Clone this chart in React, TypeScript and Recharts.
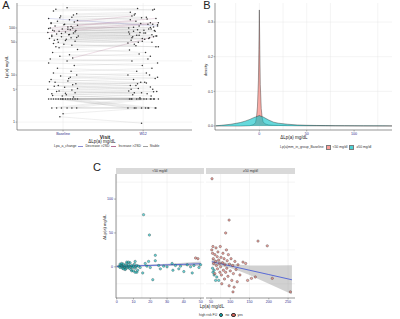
import React from "react";
import {
  Area,
  CartesianGrid,
  ComposedChart,
  Line,
  Scatter,
  XAxis,
  YAxis,
} from "recharts";

const FONT = "'Liberation Sans', Arial, Helvetica, sans-serif";
const NAVY = "#2e2e8a";
const AXIS = "#4d4d4d";
const GRID = "#e4e4e4";
const RED = "#F8766D";
const TEAL = "#00BFC4";

// ---------- A: Lp(a) at each visit, log scale ----------
const visitTicks = [1, 2];
const visitNames = ["Baseline", "W12"];
const lpaTicks = [1, 5, 10, 50, 100];
const lpaGrid = [1, 2, 3, 4, 5, 6, 7, 8, 9, 10, 20, 30, 40, 50, 60, 70, 80, 90, 100, 200, 300];

const baselineLpa = [
  270, 230, 200, 180, 170, 160, 150, 140, 135, 130, 120, 115, 110, 105, 100, 100, 95, 92, 90, 88,
  85, 82, 80, 78, 75, 72, 70, 68, 65, 62, 60, 58, 55, 52, 50,
  250, 190, 165, 145, 125, 118, 108, 98, 94, 86, 83, 76, 73, 66, 63, 57, 54, 47, 43, 38,
  45, 40, 35, 30, 27, 25, 23, 22, 20, 18, 16, 14, 12, 11, 10,
  9.5, 9, 8, 7.5, 7, 6.5, 6, 5.5, 5, 4.8, 4.5, 4.2, 4, 3.8, 3.6, 3.4,
  8.5, 7.2, 6.2, 5.8, 5.2, 4.6, 4.1, 3.7,
  3.1, 3.1, 3.1, 3.1, 3.1, 3.1, 3.1, 3.1, 3.1, 3.1, 3.1, 3.1, 3.1, 3.1,
  2, 2, 2, 2, 2, 2,
  1.5, 1.3,
];
const week12Lpa = [
  260, 250, 215, 170, 190, 110, 165, 130, 180, 120, 110, 160, 100, 95, 140, 90, 105, 85, 130, 80,
  95, 75, 120, 70, 85, 65, 78, 60, 72, 55, 68, 50, 62, 48, 58,
  240, 200, 155, 150, 118, 125, 102, 104, 88, 92, 78, 82, 68, 70, 60, 62, 50, 52, 40, 42,
  40, 45, 30, 34, 25, 28, 65, 20, 22, 16, 18, 12, 14, 10, 11,
  8, 10, 7, 8.5, 6, 7, 5, 6, 4.5, 5.2, 4, 4.6, 3.6, 4.2, 3.1, 3.8,
  9, 6.5, 6.8, 5, 5.6, 4.2, 4.4, 3.3,
  3.1, 3.1, 2, 3.1, 3.1, 2, 3.1, 3.1, 2, 3.1, 3.1, 2, 3.1, 2,
  3.1, 2, 3.1, 2, 3.1, 2,
  2, 0.95,
];
const baselineJitter = [
  0.05, -0.12, 0.17, -0.03, 0.11, -0.18, 0.08, -0.07, 0.14, -0.15, 0.02, 0.18, -0.1, 0.06, -0.16,
  0.12, -0.01, 0.09, -0.13, 0.16, -0.05, 0.03, -0.19, 0.13, -0.08, 0.07, -0.14, 0.19, -0.02, 0.1,
  -0.17, 0.04, -0.11, 0.15, -0.06,
  -0.09, 0.13, -0.04, 0.18, -0.15, 0.01, 0.1, -0.18, 0.06, -0.11, 0.15, -0.02, 0.08, -0.14, 0.17,
  -0.07, 0.03, -0.12, 0.11, -0.05,
  0.01, -0.09, 0.18, -0.13, 0.08, -0.04, 0.12, -0.16, 0.05, -0.18, 0.14, -0.07, 0.1, -0.12, 0.17,
  -0.03, 0.09, -0.15, 0.06, -0.1, 0.16, -0.06, 0.02, -0.19, 0.11, -0.08, 0.15, -0.14, 0.04, -0.01, 0.13,
  0.07, -0.17, 0.12, -0.11, 0.18, -0.05, 0.03, -0.13,
  -0.18, -0.15, -0.12, -0.09, -0.06, -0.03, 0.0, 0.03, 0.06, 0.09, 0.12, 0.15, 0.18, -0.01,
  -0.14, -0.08, -0.02, 0.05, 0.11, 0.17,
  0.0, -0.04,
];
const week12Jitter = [
  -0.07, 0.14, -0.16, 0.04, -0.11, 0.18, -0.02, 0.09, -0.14, 0.12, -0.05, 0.16, -0.18, 0.07, -0.09,
  0.01, 0.13, -0.12, 0.19, -0.04, 0.1, -0.17, 0.06, -0.08, 0.15, -0.13, 0.03, -0.01, 0.11, -0.15,
  0.17, -0.06, 0.08, -0.19, 0.02,
  0.12, -0.1, 0.05, -0.16, 0.18, -0.03, 0.09, -0.12, 0.14, -0.07, 0.01, -0.18, 0.16, -0.05, 0.07,
  -0.14, 0.11, -0.01, 0.19, -0.09,
  0.16, -0.11, 0.03, -0.17, 0.09, -0.05, 0.13, -0.14, 0.06, -0.01, 0.18, -0.08, 0.11, -0.19, 0.04,
  -0.12, 0.08, -0.03, 0.15, -0.16, 0.02, 0.12, -0.09, 0.17, -0.06, 0.05, -0.18, 0.1, -0.02, 0.14, -0.13,
  0.18, -0.07, 0.04, -0.15, 0.09, -0.11, 0.13, -0.04,
  -0.17, -0.14, -0.11, -0.08, -0.05, -0.02, 0.01, 0.04, 0.07, 0.1, 0.13, 0.16, 0.19, -0.19,
  -0.15, -0.09, -0.03, 0.03, 0.09, 0.15,
  0.06, -0.02,
];
const changeCut = 30; // mg/dL, stands in for 2SD

// ---------- B: density of change ----------
const densityX = [
  -46, -40, -30, -20, -15, -10, -6, -4, -3, -2, -1, -0.5, 0, 0.5, 1, 2, 3, 4, 6, 10,
  15, 20, 30, 40, 50, 60, 70, 80, 90, 100, 110, 120, 130, 140,
];
const densityUnder50 = [
  0, 0, 0, 0, 0.0005, 0.001, 0.004, 0.01, 0.025, 0.055, 0.13, 0.22, 0.335, 0.22, 0.12, 0.05, 0.024,
  0.012, 0.006, 0.003, 0.002, 0.0015, 0.001, 0.0008, 0.0006, 0.0005, 0.0004, 0.0003, 0.0002, 0.0001,
  0, 0, 0, 0,
];
const densityOver50 = [
  0.0005, 0.002, 0.005, 0.01, 0.014, 0.019, 0.024, 0.026, 0.027, 0.028, 0.029, 0.03, 0.03, 0.03,
  0.029, 0.028, 0.027, 0.026, 0.023, 0.017, 0.011, 0.008, 0.005, 0.003, 0.002, 0.0015, 0.0012,
  0.001, 0.0009, 0.0008, 0.0006, 0.0005, 0.0004, 0.0003,
];

// ---------- C: change vs baseline Lp(a), faceted ----------
const deltaTicks = [0, 50, 100];
const deltaGrid = [-25, 0, 25, 50, 75, 100, 125];
const lowTicks = [0, 10, 20, 30, 40, 50];
const lowGrid = [0, 5, 10, 15, 20, 25, 30, 35, 40, 45, 50];
const highTicks = [50, 100, 150, 200, 250];
const highGrid = [50, 75, 100, 125, 150, 175, 200, 225, 250];

const lowNo = [
  [1.5, 1], [2, -1], [2.5, 2], [3, 0], [3, 3], [3.5, -2], [4, 1], [4, 4], [4.5, -1], [5, 0],
  [5, 2], [5.5, -3], [6, 1], [6, 5], [6.5, -1], [7, 0], [7, 3], [7.5, -2], [8, 1], [8, 6],
  [8.5, -4], [9, 0], [9, 2], [9.5, -1], [10, 1], [10.5, 4], [11, -2], [11.5, 0], [12, 2], [12.5, -5],
  [13, 1], [14, -1], [3, 5], [2, 4], [5, -4], [7, 7], [9, -6], [11, 8], [12, -8], [4, -3],
  [10, -6], [11, -8], [6, 7], [15.5, -9], [16, 77], [17, 5], [18, 1], [19, 8], [19.5, 47], [20, -1],
  [21.5, -19], [23, 17], [23, 9], [25, 2], [26, -3], [28, 1], [30, 0], [33, 5], [33.5, -5], [35, 2],
  [37, -3], [38, 1], [40, -7], [42, 3], [44, 0], [45, -9], [46, 2], [49, -1], [50, 3],
];
const lowYes = [[47, 13], [48.4, 12]];
const highYes = [
  [52.6, 130], [97, 69], [88, 50], [172, 38], [196, 31], [256, -37], [209, -17], [107, -37],
  [155, -17], [165, -15], [133, 7], [52, 25], [54, 20], [55, 30], [56, 12], [57, 5], [60, 18],
  [60, -10], [62, 8], [63, 28], [64, 2], [66, 15], [67, -3], [68, 22], [70, 10], [72, 5], [73, -8],
  [74, 30], [75, 0], [76, 14], [77, -12], [78, -25], [80, 6], [81, 20], [82, -5], [84, 12],
  [85, -18], [86, 3], [88, -8], [90, 25], [91, -2], [92, 9], [94, -14], [95, 18], [97, -28],
  [98, 4], [100, -6], [102, 12], [104, -20], [106, 2], [108, -10], [110, -30], [112, 8], [115, -4],
  [118, -22], [120, 3], [125, -12], [140, 5], [145, -20],
];
const highNo = [[54, -2], [55, -8], [58, -12], [62, -20], [65, -15], [70, -20], [58, -5]];

const fitLowX = [0, 10, 20, 30, 40, 50];
const fitLowY = [0.5, 1.3, 2.1, 2.9, 3.7, 4.5];
const fitLowSe = [2.2, 1.3, 1.2, 1.6, 2.4, 3.2];
const fitHighX = [52, 75, 100, 125, 150, 200, 260];
const fitHighY = [7.5, 4.6, 1.4, -1.8, -5.0, -11.4, -19.1];
const fitHighSe = [5, 3.5, 3.2, 4.8, 7, 13.5, 21.5];

const tickGray = { fontSize: 3.6, fill: "#333", fontFamily: FONT };
const tickNavy = { fontSize: 3.6, fill: NAVY, fontFamily: FONT };
const axisLine = { stroke: AXIS, strokeWidth: 0.6 };
const tickLine = { stroke: AXIS, strokeWidth: 0.4 };

type TxtProps = {
  x: number;
  y: number;
  size: number;
  rotate?: boolean;
  weight?: number;
  children: React.ReactNode;
};

const Txt = ({ x, y, size, rotate, weight, children }: TxtProps) => (
  <div
    style={{
      position: "absolute",
      left: x,
      top: y,
      transform: `translate(-50%, -50%)${rotate ? " rotate(-90deg)" : ""}`,
      fontSize: size,
      fontWeight: weight ?? 400,
      lineHeight: 1,
      whiteSpace: "nowrap",
      color: "#222",
      fontFamily: FONT,
    }}
  >
    {children}
  </div>
);

const blackDot = (p: any) => (
  <circle cx={p.cx} cy={p.cy} r={0.75} fill="#111" fillOpacity={0.85} />
);
const colorDot = (fill: string) => (p: any) => (
  <circle cx={p.cx} cy={p.cy} r={1.2} fill={fill} fillOpacity={0.6} stroke="#333" strokeWidth={0.35} />
);

const toPts = (arr: number[][]) => arr.map(([x, y]) => ({ x, y }));

const PanelA = () => {
  const base = baselineLpa.map((v, i) => ({ x: 1 + (baselineJitter[i] ?? 0), y: v }));
  const w12 = week12Lpa.map((v, i) => ({ x: 2 + (week12Jitter[i] ?? 0), y: v }));
  const segs = (kind: string) => {
    const out: { x: number; y: number | null }[] = [];
    baselineLpa.forEach((b, i) => {
      const d = week12Lpa[i] - b;
      const k = d >= changeCut ? "inc" : d <= -changeCut ? "dec" : "stable";
      if (k !== kind) return;
      out.push({ x: base[i].x, y: b }, { x: w12[i].x, y: week12Lpa[i] }, { x: w12[i].x, y: null });
    });
    return out;
  };
  return (
    <ComposedChart width={200} height={160} margin={{ top: 3, right: 8, bottom: 25, left: 0 }}>
      <CartesianGrid horizontalValues={lpaGrid} verticalValues={visitTicks} stroke={GRID} strokeWidth={0.4} />
      <XAxis
        type="number"
        dataKey="x"
        domain={[0.425, 2.61]}
        ticks={visitTicks}
        allowDataOverflow
        height={5}
        tickFormatter={(v) => visitNames[v - 1]}
        tick={tickNavy}
        tickSize={1.5}
        tickMargin={0.5}
        axisLine={axisLine}
        tickLine={tickLine}
      />
      <YAxis
        type="number"
        dataKey="y"
        scale="log"
        domain={[0.68, 340]}
        ticks={lpaTicks}
        allowDataOverflow
        width={17}
        tick={tickGray}
        tickSize={1.5}
        tickMargin={0.5}
        axisLine={axisLine}
        tickLine={tickLine}
      />
      <Line data={segs("stable")} dataKey="y" stroke="#8a8a8a" strokeOpacity={0.4} strokeWidth={0.35} dot={false} connectNulls={false} isAnimationActive={false} />
      <Line data={segs("dec")} dataKey="y" stroke="#6a6fc8" strokeOpacity={0.6} strokeWidth={0.4} dot={false} connectNulls={false} isAnimationActive={false} />
      <Line data={segs("inc")} dataKey="y" stroke="#a04a78" strokeOpacity={0.45} strokeWidth={0.4} dot={false} connectNulls={false} isAnimationActive={false} />
      <Scatter data={base} shape={blackDot} isAnimationActive={false} />
      <Scatter data={w12} shape={blackDot} isAnimationActive={false} />
    </ComposedChart>
  );
};

const PanelB = () => {
  const rows = densityX.map((x, i) => ({ x, low: densityUnder50[i], high: densityOver50[i] }));
  return (
    <ComposedChart width={200} height={160} data={rows} margin={{ top: 3, right: 8, bottom: 25, left: 0 }}>
      <CartesianGrid
        horizontalValues={[0, 0.05, 0.1, 0.15, 0.2, 0.25, 0.3]}
        verticalValues={[-25, 0, 25, 50, 75, 100, 125]}
        stroke={GRID}
        strokeWidth={0.4}
      />
      <XAxis
        type="number"
        dataKey="x"
        domain={[-46.8, 140]}
        ticks={[0, 50, 100]}
        allowDataOverflow
        height={5}
        tick={tickNavy}
        tickSize={1.5}
        tickMargin={0.5}
        axisLine={axisLine}
        tickLine={tickLine}
      />
      <YAxis
        type="number"
        domain={[-0.0116, 0.355]}
        ticks={[0, 0.1, 0.2, 0.3]}
        tickFormatter={(v) => Number(v).toFixed(1)}
        allowDataOverflow
        width={15}
        tick={tickGray}
        tickSize={1.5}
        tickMargin={0.5}
        axisLine={axisLine}
        tickLine={tickLine}
      />
      <Area type="linear" dataKey="low" fill={RED} fillOpacity={0.6} stroke="#222" strokeWidth={0.4} isAnimationActive={false} />
      <Area type="linear" dataKey="high" fill={TEAL} fillOpacity={0.6} stroke="#222" strokeWidth={0.4} isAnimationActive={false} />
    </ComposedChart>
  );
};

type FacetProps = {
  width: number;
  yAxisWidth: number;
  domain: [number, number];
  ticks: number[];
  grid: number[];
  no: number[][];
  yes: number[][];
  fitX: number[];
  fitY: number[];
  fitSe: number[];
};

const Facet = ({ width, yAxisWidth, domain, ticks, grid, no, yes, fitX, fitY, fitSe }: FacetProps) => {
  const fit = fitX.map((x, i) => ({ x, fit: fitY[i], band: [fitY[i] - fitSe[i], fitY[i] + fitSe[i]] }));
  return (
    <ComposedChart width={width} height={135} data={fit} margin={{ top: 0, right: 0, bottom: 0, left: 0 }}>
      <CartesianGrid horizontalValues={deltaGrid} verticalValues={grid} stroke={GRID} strokeWidth={0.4} />
      <XAxis
        type="number"
        dataKey="x"
        domain={domain}
        ticks={ticks}
        allowDataOverflow
        height={11}
        tick={tickNavy}
        tickSize={1.5}
        tickMargin={1}
        axisLine={axisLine}
        tickLine={tickLine}
      />
      <YAxis
        type="number"
        dataKey="y"
        domain={[-46, 137]}
        ticks={deltaTicks}
        allowDataOverflow
        hide={yAxisWidth === 0}
        width={yAxisWidth}
        tick={tickNavy}
        tickSize={2}
        tickMargin={1}
        axisLine={axisLine}
        tickLine={tickLine}
      />
      <Scatter data={toPts(no)} shape={colorDot(TEAL)} isAnimationActive={false} />
      <Scatter data={toPts(yes)} shape={colorDot("#e0645a")} isAnimationActive={false} />
      <Area type="linear" dataKey="band" fill="#9a9a9a" fillOpacity={0.45} stroke="none" isAnimationActive={false} />
      <Line type="linear" dataKey="fit" stroke="#3a4fd6" strokeWidth={0.8} dot={false} isAnimationActive={false} />
    </ComposedChart>
  );
};

const Swatch = ({ color, line }: { color: string; line?: boolean }) => (
  <span
    style={{
      display: "inline-block",
      width: line ? 5 : 3,
      height: line ? 0.6 : 3,
      background: color,
      opacity: line ? 0.8 : 0.7,
      border: line ? "none" : "0.3px solid #444",
      verticalAlign: "middle",
      margin: "0 1px 0 2px",
    }}
  />
);

const Dot = ({ color }: { color: string }) => (
  <span
    style={{
      display: "inline-block",
      width: 2.4,
      height: 2.4,
      borderRadius: "50%",
      background: color,
      border: "0.3px solid #333",
      verticalAlign: "middle",
      margin: "0 1px 0 2px",
    }}
  />
);

const Strip = ({ x, w, label }: { x: number; w: number; label: string }) => (
  <div
    style={{
      position: "absolute",
      left: x,
      top: 168,
      width: w,
      height: 6,
      background: "#d9d9d9",
      fontSize: 3.4,
      lineHeight: "6px",
      textAlign: "center",
      color: "#333",
      fontFamily: FONT,
    }}
  >
    {label}
  </div>
);

export default function App() {
  return (
    <div
      style={{
        position: "absolute",
        left: 0,
        top: 0,
        width: 400,
        height: 319,
        background: "#fff",
        overflow: "hidden",
        fontFamily: FONT,
      }}
    >
      <div style={{ position: "absolute", left: 0, top: 0 }}>
        <PanelA />
      </div>
      <div style={{ position: "absolute", left: 200, top: 0 }}>
        <PanelB />
      </div>
      <div style={{ position: "absolute", left: 90, top: 174 }}>
        <Facet width={114} yAxisWidth={26} domain={[-0.4, 52]} ticks={lowTicks} grid={lowGrid} no={lowNo} yes={lowYes} fitX={fitLowX} fitY={fitLowY} fitSe={fitLowSe} />
      </div>
      <div style={{ position: "absolute", left: 206, top: 174 }}>
        <Facet width={89} yAxisWidth={0} domain={[37, 268]} ticks={highTicks} grid={highGrid} no={highNo} yes={highYes} fitX={fitHighX} fitY={fitHighY} fitSe={fitHighSe} />
      </div>
      <Strip x={116} w={87.5} label="<50 mg/dl" />
      <Strip x={206} w={89} label="≥50 mg/dl" />

      <Txt x={6} y={5} size={11}>A</Txt>
      <Txt x={207} y={5} size={11}>B</Txt>
      <Txt x={97} y={167} size={11}>C</Txt>

      <Txt x={7} y={67} size={4.2} rotate>Lp(a) mg/dL</Txt>
      <Txt x={105} y={137} size={5} weight={600}>Visit</Txt>
      <Txt x={102} y={142} size={4.5}>ΔLp(a) mg/dL</Txt>
      <div style={{ position: "absolute", left: 54, top: 144, fontSize: 3.4, lineHeight: "4px", whiteSpace: "nowrap", color: "#333" }}>
        Lpa_a_change
        <Swatch color="#6a6fc8" line /> Decrease &gt;2SD
        <Swatch color="#a04a78" line /> Increase &gt;2SD
        <Swatch color="#8a8a8a" line /> Stable
      </div>

      <Txt x={205.5} y={70} size={4} rotate>density</Txt>
      <Txt x={294} y={138} size={4.5}>ΔLp(a) mg/dL</Txt>
      <div style={{ position: "absolute", left: 280, top: 145, fontSize: 3.4, lineHeight: "4px", whiteSpace: "nowrap", color: "#333" }}>
        Lp(a)mm_in_group_Baseline
        <Swatch color={RED} /> &lt;50 mg/dl
        <Swatch color={TEAL} /> ≥50 mg/dl
      </div>

      <Txt x={105} y={227} size={4.2} rotate>ΔLp(a) mg/dL</Txt>
      <Txt x={212} y={307} size={4.5}>Lp(a) mg/dL</Txt>
      <div style={{ position: "absolute", left: 199, top: 313, fontSize: 3.4, lineHeight: "4px", whiteSpace: "nowrap", color: "#333" }}>
        high risk FU
        <Dot color={TEAL} /> no
        <Dot color="#e0645a" /> yes
      </div>
    </div>
  );
}
